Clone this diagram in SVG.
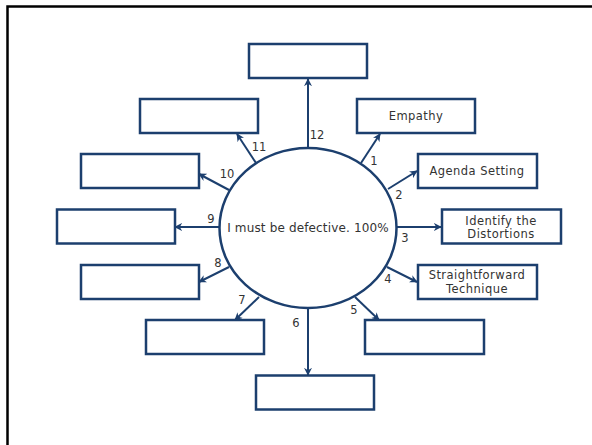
<svg xmlns="http://www.w3.org/2000/svg" width="592" height="445" viewBox="0 0 592 445">
<style>
.box{fill:#fff;stroke:#1c3f6e;stroke-width:2.5}
.conn{stroke:#1c3f6e;stroke-width:2;fill:none;marker-end:url(#ah)}
.t{font-family:"DejaVu Sans",Verdana,sans-serif;fill:#333;text-anchor:middle;dominant-baseline:central}
.bt{font-size:11.5px;letter-spacing:0.45px}
.n{font-size:11.5px}
</style>
<defs>
<marker id="ah" viewBox="0 0 10 10" refX="9" refY="5" markerWidth="4" markerHeight="4" markerUnits="strokeWidth" orient="auto">
<path d="M0,0 L10,5 L0,10 L3,5 Z" fill="#1c3f6e"/>
</marker>
</defs>
<rect x="0" y="0" width="592" height="445" fill="#fff"/>
<rect x="7.5" y="6.5" width="700" height="500" fill="none" stroke="#000" stroke-width="2.5"/>
<g id="connectors">
<line class="conn" x1="308" y1="148" x2="308" y2="79"/>
<line class="conn" x1="361" y1="163" x2="380" y2="134"/>
<line class="conn" x1="388" y1="189" x2="417" y2="171"/>
<line class="conn" x1="397" y1="227" x2="441" y2="227"/>
<line class="conn" x1="387" y1="267" x2="417" y2="282"/>
<line class="conn" x1="355" y1="297" x2="379" y2="320"/>
<line class="conn" x1="308" y1="308" x2="308" y2="375"/>
<line class="conn" x1="259" y1="297" x2="235" y2="320"/>
<line class="conn" x1="229" y1="267" x2="199" y2="282"/>
<line class="conn" x1="220" y1="227" x2="175" y2="227"/>
<line class="conn" x1="229" y1="190" x2="199" y2="174"/>
<line class="conn" x1="256" y1="163" x2="237" y2="134"/>
<text class="t n" x="317" y="135">12</text>
<text class="t n" x="374" y="161">1</text>
<text class="t n" x="399" y="195">2</text>
<text class="t n" x="405" y="238">3</text>
<text class="t n" x="388" y="279">4</text>
<text class="t n" x="354" y="310">5</text>
<text class="t n" x="296" y="323">6</text>
<text class="t n" x="242" y="300">7</text>
<text class="t n" x="218" y="263">8</text>
<text class="t n" x="211" y="219">9</text>
<text class="t n" x="227" y="174">10</text>
<text class="t n" x="259" y="147">11</text>
</g>
<g id="center">
<ellipse cx="308" cy="228" rx="88.5" ry="80" fill="#fff" stroke="#1c3f6e" stroke-width="2.5"/>
<text class="t" x="308" y="228" font-size="12" letter-spacing="0.15">I must be defective. 100%</text>
</g>
<g id="n12"><rect class="box" x="249" y="44" width="118" height="34"/></g>
<g id="n1"><rect class="box" x="357" y="99" width="118" height="34"/><text class="t bt" x="416" y="115.5">Empathy</text></g>
<g id="n2"><rect class="box" x="418" y="154" width="119" height="34"/><text class="t bt" x="477" y="171">Agenda Setting</text></g>
<g id="n3"><rect class="box" x="442" y="209.5" width="119" height="34"/><text class="t bt" x="501" y="220.5">Identify the</text><text class="t bt" x="501" y="233.5">Distortions</text></g>
<g id="n4"><rect class="box" x="418" y="265" width="119" height="34"/><text class="t bt" x="477" y="275">Straightforward</text><text class="t bt" x="477" y="288.5">Technique</text></g>
<g id="n5"><rect class="box" x="365" y="320" width="119" height="34"/></g>
<g id="n6"><rect class="box" x="256" y="375.5" width="118" height="34"/></g>
<g id="n7"><rect class="box" x="146" y="320" width="118" height="34"/></g>
<g id="n8"><rect class="box" x="81" y="265" width="118" height="34"/></g>
<g id="n9"><rect class="box" x="57" y="209.5" width="118" height="34"/></g>
<g id="n10"><rect class="box" x="81" y="154" width="118" height="34"/></g>
<g id="n11"><rect class="box" x="140" y="99" width="118" height="34"/></g>
</svg>
